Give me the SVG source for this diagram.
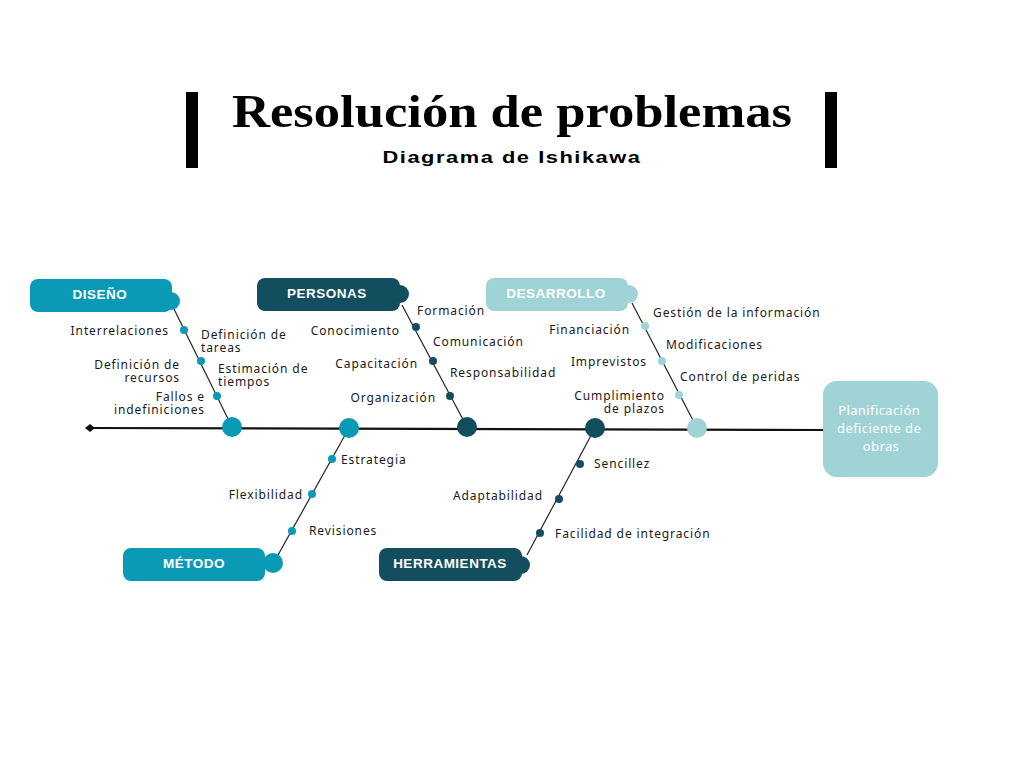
<svg xmlns="http://www.w3.org/2000/svg" width="1024" height="768" viewBox="0 0 1024 768">
<style>
.lbl{font-family:"Noto Sans","Liberation Sans",sans-serif;font-size:12px;fill:#1a1a1a;letter-spacing:0.9px}
.r{text-anchor:end}
.hd{font-family:"Liberation Sans","Noto Sans",sans-serif;font-size:13.5px;font-weight:bold;fill:#ffffff;text-anchor:middle;letter-spacing:0.5px}
.ln{stroke:#222;stroke-width:1.2;fill:none}
.teal{fill:#0a9ab5}
.dark{fill:#134e5e}
.light{fill:#9fd3d5}
</style>
<rect width="1024" height="768" fill="#ffffff"/>
<g id="title">
<rect x="186" y="92" width="12" height="76" fill="#000"/>
<rect x="825" y="92" width="12" height="76" fill="#000"/>
<text x="512" y="127" text-anchor="middle" font-family="Liberation Serif,serif" font-weight="bold" font-size="46" textLength="560" lengthAdjust="spacingAndGlyphs" fill="#000">Resolución de problemas</text>
<text x="512" y="163" text-anchor="middle" font-family="Liberation Sans,sans-serif" font-weight="bold" font-size="17" letter-spacing="1.2" textLength="259" lengthAdjust="spacingAndGlyphs" fill="#000">Diagrama de Ishikawa</text>
</g>
<g id="connectors">
<line x1="90" y1="428" x2="823" y2="430" stroke="#111" stroke-width="2.2"/>
<path d="M85 428 L90 424 L95 428 L90 432 Z" fill="#111"/>
<line class="ln" x1="174" y1="309" x2="232" y2="427"/>
<line class="ln" x1="402" y1="305" x2="467" y2="427"/>
<line class="ln" x1="632" y1="303" x2="697" y2="428"/>
<line class="ln" x1="278" y1="555" x2="349" y2="428"/>
<line class="ln" x1="527" y1="555" x2="595" y2="428"/>
</g>
<g id="diseno">
<rect class="teal" x="30" y="279" width="142" height="33" rx="8"/>
<circle class="teal" cx="171" cy="301" r="9"/>
<text class="hd" x="100" y="299">DISEÑO</text>
<circle class="teal" cx="232" cy="427" r="10"/>
<circle class="teal" cx="184" cy="330" r="4"/>
<circle class="teal" cx="201" cy="361" r="4"/>
<circle class="teal" cx="217" cy="396" r="4"/>
<text class="lbl r" x="169" y="335">Interrelaciones</text>
<text class="lbl"><tspan x="201" y="339">Definición  de</tspan><tspan x="201" y="352">tareas</tspan></text>
<text class="lbl r"><tspan x="180" y="369">Definición de</tspan><tspan x="180" y="382">recursos</tspan></text>
<text class="lbl"><tspan x="218" y="373">Estimación  de</tspan><tspan x="218" y="386">tiempos</tspan></text>
<text class="lbl r"><tspan x="205" y="401">Fallos e</tspan><tspan x="205" y="414">indefiniciones</tspan></text>
</g>
<g id="personas">
<rect class="dark" x="257" y="278" width="143" height="33" rx="8"/>
<circle class="dark" cx="400" cy="294" r="9"/>
<text class="hd" x="327" y="298">PERSONAS</text>
<circle class="dark" cx="467" cy="427" r="10"/>
<circle class="dark" cx="416" cy="327" r="4"/>
<circle class="dark" cx="433" cy="361" r="4"/>
<circle class="dark" cx="450" cy="396" r="4"/>
<text class="lbl" x="417" y="315">Formación</text>
<text class="lbl r" x="400" y="335">Conocimiento</text>
<text class="lbl" x="433" y="346">Comunicación</text>
<text class="lbl r" x="418" y="368">Capacitación</text>
<text class="lbl" x="450" y="377">Responsabilidad</text>
<text class="lbl r" x="436" y="402">Organización</text>
</g>
<g id="desarrollo">
<rect class="light" x="486" y="278" width="142" height="33" rx="8"/>
<circle class="light" cx="629" cy="294" r="9"/>
<text class="hd" x="556" y="298">DESARROLLO</text>
<circle class="light" cx="697" cy="428" r="10"/>
<circle class="light" cx="645" cy="326" r="4"/>
<circle class="light" cx="662" cy="361" r="4"/>
<circle class="light" cx="679" cy="395" r="4"/>
<text class="lbl" x="653" y="317">Gestión de la información</text>
<text class="lbl r" x="630" y="334">Financiación</text>
<text class="lbl" x="666" y="349">Modificaciones</text>
<text class="lbl r" x="647" y="366">Imprevistos</text>
<text class="lbl" x="680" y="381">Control de peridas</text>
<text class="lbl r"><tspan x="665" y="400">Cumplimiento</tspan><tspan x="665" y="413">de plazos</tspan></text>
</g>
<g id="metodo">
<rect class="teal" x="123" y="548" width="142" height="33" rx="8"/>
<circle class="teal" cx="273" cy="563" r="10"/>
<text class="hd" x="194" y="568">MÉTODO</text>
<circle class="teal" cx="349" cy="428" r="10"/>
<circle class="teal" cx="332" cy="459" r="4"/>
<circle class="teal" cx="312" cy="494" r="4"/>
<circle class="teal" cx="292" cy="531" r="4"/>
<text class="lbl" x="341" y="464">Estrategia</text>
<text class="lbl r" x="303" y="499">Flexibilidad</text>
<text class="lbl" x="309" y="535">Revisiones</text>
</g>
<g id="herramientas">
<rect class="dark" x="379" y="548" width="143" height="33" rx="8"/>
<circle class="dark" cx="521" cy="565" r="9"/>
<text class="hd" x="450" y="568">HERRAMIENTAS</text>
<circle class="dark" cx="595" cy="428" r="10"/>
<circle class="dark" cx="580" cy="464" r="4"/>
<circle class="dark" cx="559" cy="499" r="4"/>
<circle class="dark" cx="540" cy="533" r="4"/>
<text class="lbl" x="594" y="468">Sencillez</text>
<text class="lbl r" x="543" y="500">Adaptabilidad</text>
<text class="lbl" x="555" y="538">Facilidad de integración</text>
</g>
<g id="efecto">
<rect class="light" x="823" y="381" width="115" height="96" rx="14"/>
<text font-family="Noto Sans,Liberation Sans,sans-serif" font-size="13" fill="#ffffff" text-anchor="middle" letter-spacing="0.4">
<tspan x="881" y="415">Planificación</tspan>
<tspan x="881" y="433">deficiente de</tspan>
<tspan x="881" y="451">obras</tspan>
</text>
</g>
</svg>
